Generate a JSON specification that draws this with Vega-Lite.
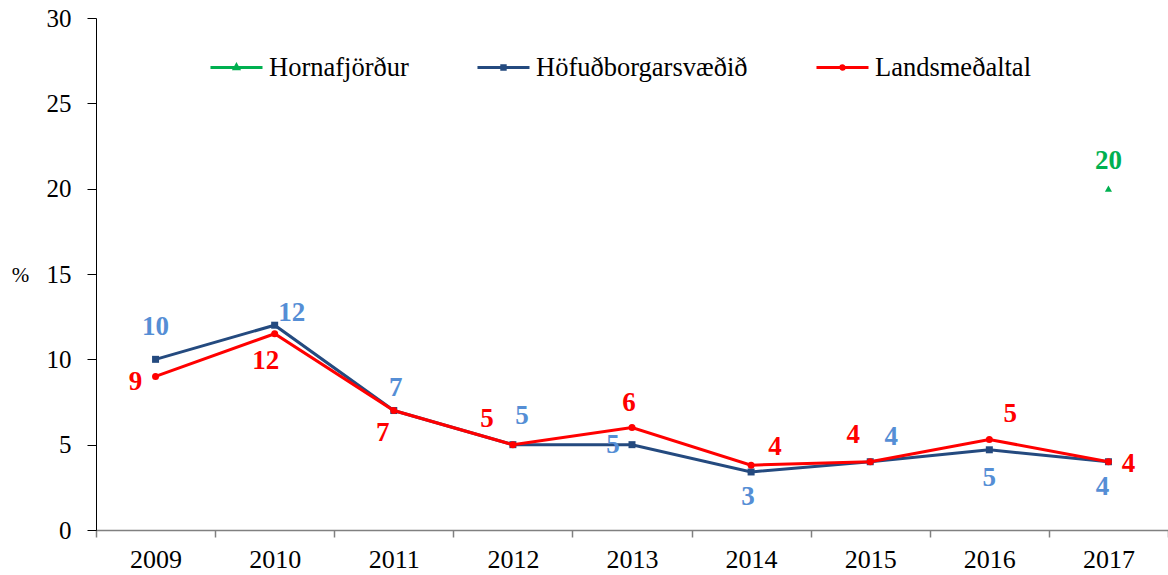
{
  "$schema": "https://vega.github.io/schema/vega-lite/v6.json",
  "width": 1072,
  "height": 512,
  "autosize": {"type": "none"},
  "padding": {"left": 96, "top": 18, "right": 0, "bottom": 45},
  "background": "white",
  "config": {
    "view": {"stroke": null},
    "font": "Liberation Serif"
  },
  "data": {
    "values": [
      {"year": "2009", "series": "Höfuðborgarsvæðið", "value": 10},
      {"year": "2010", "series": "Höfuðborgarsvæðið", "value": 12},
      {"year": "2011", "series": "Höfuðborgarsvæðið", "value": 7},
      {"year": "2012", "series": "Höfuðborgarsvæðið", "value": 5},
      {"year": "2013", "series": "Höfuðborgarsvæðið", "value": 5},
      {"year": "2014", "series": "Höfuðborgarsvæðið", "value": 3.4},
      {"year": "2015", "series": "Höfuðborgarsvæðið", "value": 4},
      {"year": "2016", "series": "Höfuðborgarsvæðið", "value": 4.7},
      {"year": "2017", "series": "Höfuðborgarsvæðið", "value": 4},
      {"year": "2009", "series": "Landsmeðaltal", "value": 9},
      {"year": "2010", "series": "Landsmeðaltal", "value": 11.5},
      {"year": "2011", "series": "Landsmeðaltal", "value": 7},
      {"year": "2012", "series": "Landsmeðaltal", "value": 5},
      {"year": "2013", "series": "Landsmeðaltal", "value": 6},
      {"year": "2014", "series": "Landsmeðaltal", "value": 3.8},
      {"year": "2015", "series": "Landsmeðaltal", "value": 4},
      {"year": "2016", "series": "Landsmeðaltal", "value": 5.3},
      {"year": "2017", "series": "Landsmeðaltal", "value": 4},
      {"year": "2017", "series": "Hornafjörður", "value": 20}
    ]
  },
  "encoding": {
    "x": {
      "field": "year", "type": "ordinal",
      "scale": {"type": "band", "paddingInner": 0, "paddingOuter": 0},
      "axis": {
        "title": null, "labelAngle": 0, "labelFontSize": 26, "labelFont": "Liberation Serif", "labelColor": "#000000",
        "labelPadding": 9, "tickBand": "extent", "tickSize": 7, "tickColor": "#808080", "domainColor": "#808080",
        "domainWidth": 1.5, "tickWidth": 1.5, "grid": false
      }
    },
    "y": {
      "field": "value", "type": "quantitative",
      "scale": {"domain": [0, 30], "nice": false},
      "axis": {
        "values": [0, 5, 10, 15, 20, 25, 30], "grid": false, "labelFontSize": 25, "labelFont": "Liberation Serif",
        "labelColor": "#000000", "labelPadding": 16, "tickSize": 9, "tickColor": "#000000", "domainColor": "#000000",
        "title": "%", "titleAngle": 0, "titleFont": "Liberation Serif", "titleFontSize": 21, "titleFontWeight": "normal",
        "titleX": -76, "titleY": 257, "titleAlign": "center", "titleBaseline": "middle", "titleColor": "#000000"
      }
    }
  },
  "layer": [
    {
      "mark": {"type": "point", "opacity": 0, "filled": false, "size": 1156, "strokeWidth": 3},
      "encoding": {
        "color": {
          "field": "series", "type": "nominal",
          "scale": {"domain": ["Hornafjörður", "Höfuðborgarsvæðið", "Landsmeðaltal"], "range": ["#00B050", "#244A7F", "#FF0000"]},
          "legend": {
            "title": null, "orient": "none", "direction": "horizontal", "columns": 3, "legendX": 131, "legendY": 31,
            "labelFontSize": 26.5, "labelFont": "Liberation Serif", "labelColor": "#000000", "labelOffset": 5,
            "columnPadding": 62, "symbolSize": 1156, "symbolStrokeWidth": 3, "symbolOpacity": 1, "labelLimit": 400
          }
        },
        "shape": {
          "field": "series", "type": "nominal",
          "scale": {
            "domain": ["Hornafjörður", "Höfuðborgarsvæðið", "Landsmeðaltal"],
            "range": [
              "M-2.06,0H1M-0.53,-0.14L-0.41,0.07H-0.65Z",
              "M-2.06,0H1M-0.63,-0.1H-0.43V0.1H-0.63Z",
              "M-2.06,0H1M-0.63,0A0.1,0.1 0 1,0 -0.43,0A0.1,0.1 0 1,0 -0.63,0Z"
            ]
          }
        }
      }
    },
    {
      "transform": [{"filter": "datum.series === 'Höfuðborgarsvæðið'"}],
      "mark": {"type": "line", "color": "#244A7F", "strokeWidth": 3}
    },
    {
      "transform": [{"filter": "datum.series === 'Höfuðborgarsvæðið'"}],
      "mark": {"type": "point", "shape": "square", "filled": true, "opacity": 1, "color": "#244A7F", "size": 49}
    },
    {
      "transform": [{"filter": "datum.series === 'Landsmeðaltal'"}],
      "mark": {"type": "line", "color": "#FF0000", "strokeWidth": 3}
    },
    {
      "transform": [{"filter": "datum.series === 'Landsmeðaltal'"}],
      "mark": {"type": "point", "shape": "circle", "filled": true, "opacity": 1, "color": "#FF0000", "size": 49}
    },
    {
      "transform": [{"filter": "datum.series === 'Hornafjörður'"}],
      "mark": {"type": "point", "shape": "triangle-up", "filled": true, "opacity": 1, "color": "#00B050", "size": 50}
    },
    {"transform": [{"filter": "datum.series === 'Höfuðborgarsvæðið' && datum.year === '2009'"}], "mark": {"type": "text", "dx": 0, "dy": -32, "color": "#558ED5", "fontSize": 27, "fontWeight": "bold", "font": "Liberation Serif"}, "encoding": {"text": {"field": "value", "format": ".0f"}}},
    {"transform": [{"filter": "datum.series === 'Höfuðborgarsvæðið' && datum.year === '2010'"}], "mark": {"type": "text", "dx": 17, "dy": -12, "color": "#558ED5", "fontSize": 27, "fontWeight": "bold", "font": "Liberation Serif"}, "encoding": {"text": {"field": "value", "format": ".0f"}}},
    {"transform": [{"filter": "datum.series === 'Höfuðborgarsvæðið' && datum.year === '2011'"}], "mark": {"type": "text", "dx": 2, "dy": -23, "color": "#558ED5", "fontSize": 27, "fontWeight": "bold", "font": "Liberation Serif"}, "encoding": {"text": {"field": "value", "format": ".0f"}}},
    {"transform": [{"filter": "datum.series === 'Höfuðborgarsvæðið' && datum.year === '2012'"}], "mark": {"type": "text", "dx": 9, "dy": -29, "color": "#558ED5", "fontSize": 27, "fontWeight": "bold", "font": "Liberation Serif"}, "encoding": {"text": {"field": "value", "format": ".0f"}}},
    {"transform": [{"filter": "datum.series === 'Höfuðborgarsvæðið' && datum.year === '2013'"}], "mark": {"type": "text", "dx": -19, "dy": 0, "color": "#558ED5", "fontSize": 27, "fontWeight": "bold", "font": "Liberation Serif"}, "encoding": {"text": {"field": "value", "format": ".0f"}}},
    {"transform": [{"filter": "datum.series === 'Höfuðborgarsvæðið' && datum.year === '2014'"}], "mark": {"type": "text", "dx": -3, "dy": 25, "color": "#558ED5", "fontSize": 27, "fontWeight": "bold", "font": "Liberation Serif"}, "encoding": {"text": {"field": "value", "format": ".0f"}}},
    {"transform": [{"filter": "datum.series === 'Höfuðborgarsvæðið' && datum.year === '2015'"}], "mark": {"type": "text", "dx": 21, "dy": -25, "color": "#558ED5", "fontSize": 27, "fontWeight": "bold", "font": "Liberation Serif"}, "encoding": {"text": {"field": "value", "format": ".0f"}}},
    {"transform": [{"filter": "datum.series === 'Höfuðborgarsvæðið' && datum.year === '2016'"}], "mark": {"type": "text", "dx": 0, "dy": 28, "color": "#558ED5", "fontSize": 27, "fontWeight": "bold", "font": "Liberation Serif"}, "encoding": {"text": {"field": "value", "format": ".0f"}}},
    {"transform": [{"filter": "datum.series === 'Höfuðborgarsvæðið' && datum.year === '2017'"}], "mark": {"type": "text", "dx": -6, "dy": 25, "color": "#558ED5", "fontSize": 27, "fontWeight": "bold", "font": "Liberation Serif"}, "encoding": {"text": {"field": "value", "format": ".0f"}}},
    {"transform": [{"filter": "datum.series === 'Landsmeðaltal' && datum.year === '2009'"}], "mark": {"type": "text", "dx": -20, "dy": 6, "color": "#FF0000", "fontSize": 27, "fontWeight": "bold", "font": "Liberation Serif"}, "encoding": {"text": {"field": "value", "format": ".0f"}}},
    {"transform": [{"filter": "datum.series === 'Landsmeðaltal' && datum.year === '2010'"}], "mark": {"type": "text", "dx": -9, "dy": 27, "color": "#FF0000", "fontSize": 27, "fontWeight": "bold", "font": "Liberation Serif"}, "encoding": {"text": {"field": "value", "format": ".0f"}}},
    {"transform": [{"filter": "datum.series === 'Landsmeðaltal' && datum.year === '2011'"}], "mark": {"type": "text", "dx": -11, "dy": 22, "color": "#FF0000", "fontSize": 27, "fontWeight": "bold", "font": "Liberation Serif"}, "encoding": {"text": {"field": "value", "format": ".0f"}}},
    {"transform": [{"filter": "datum.series === 'Landsmeðaltal' && datum.year === '2012'"}], "mark": {"type": "text", "dx": -26, "dy": -26, "color": "#FF0000", "fontSize": 27, "fontWeight": "bold", "font": "Liberation Serif"}, "encoding": {"text": {"field": "value", "format": ".0f"}}},
    {"transform": [{"filter": "datum.series === 'Landsmeðaltal' && datum.year === '2013'"}], "mark": {"type": "text", "dx": -3, "dy": -25, "color": "#FF0000", "fontSize": 27, "fontWeight": "bold", "font": "Liberation Serif"}, "encoding": {"text": {"field": "value", "format": ".0f"}}},
    {"transform": [{"filter": "datum.series === 'Landsmeðaltal' && datum.year === '2014'"}], "mark": {"type": "text", "dx": 24, "dy": -18, "color": "#FF0000", "fontSize": 27, "fontWeight": "bold", "font": "Liberation Serif"}, "encoding": {"text": {"field": "value", "format": ".0f"}}},
    {"transform": [{"filter": "datum.series === 'Landsmeðaltal' && datum.year === '2015'"}], "mark": {"type": "text", "dx": -17, "dy": -27, "color": "#FF0000", "fontSize": 27, "fontWeight": "bold", "font": "Liberation Serif"}, "encoding": {"text": {"field": "value", "format": ".0f"}}},
    {"transform": [{"filter": "datum.series === 'Landsmeðaltal' && datum.year === '2016'"}], "mark": {"type": "text", "dx": 21, "dy": -26, "color": "#FF0000", "fontSize": 27, "fontWeight": "bold", "font": "Liberation Serif"}, "encoding": {"text": {"field": "value", "format": ".0f"}}},
    {"transform": [{"filter": "datum.series === 'Landsmeðaltal' && datum.year === '2017'"}], "mark": {"type": "text", "dx": 20, "dy": 2, "color": "#FF0000", "fontSize": 27, "fontWeight": "bold", "font": "Liberation Serif"}, "encoding": {"text": {"field": "value", "format": ".0f"}}},
    {"transform": [{"filter": "datum.series === 'Hornafjörður'"}], "mark": {"type": "text", "dx": 0, "dy": -28, "color": "#00B050", "fontSize": 27, "fontWeight": "bold", "font": "Liberation Serif"}, "encoding": {"text": {"field": "value", "format": ".0f"}}}
  ]
}
